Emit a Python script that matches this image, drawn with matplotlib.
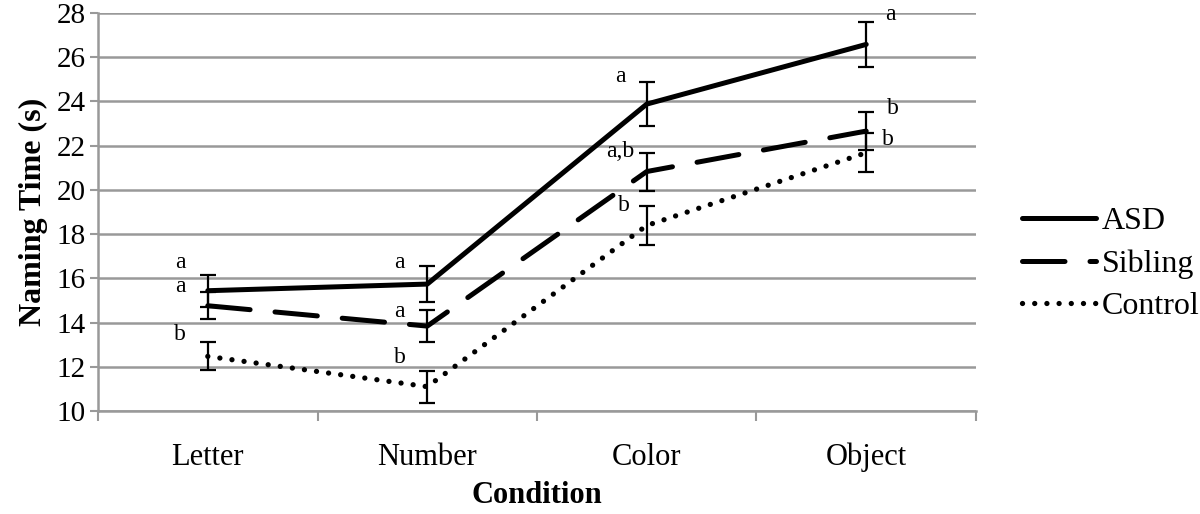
import numpy as np
import matplotlib
matplotlib.use('Agg')
import matplotlib.pyplot as plt

plt.rcParams['font.family'] = ['Liberation Serif', 'DejaVu Serif']

# data
conditions = ['Letter', 'Number', 'Color', 'Object']
asd = [15.44, 15.74, 23.88, 26.58]
asd_err = [0.73, 0.81, 1.00, 1.02]
sibling = [14.76, 13.84, 20.83, 22.66]
sibling_err = [0.62, 0.72, 0.86, 0.87]
control = [12.47, 11.10, 18.39, 21.68]
control_err = [0.63, 0.72, 0.87, 0.88]

# significance letters: (condition index, y, text, x shift)
sig_labels = [
    (0, 16.70, 'a', -0.125), (0, 15.61, 'a', -0.125), (0, 13.44, 'b', -0.125),
    (1, 16.70, 'a', -0.125), (1, 14.48, 'a', -0.125), (1, 12.44, 'b', -0.125),
    (2, 25.15, 'a', -0.12), (2, 21.75, 'a,b', -0.12), (2, 19.30, 'b', -0.105),
    (3, 27.94, 'a', 0.11), (3, 23.67, 'b', 0.12), (3, 22.26, 'b', 0.10),
]

x = np.arange(len(conditions))
grid_col = '#999999'

fig = plt.figure(figsize=(12, 5.14), dpi=100)
ax = fig.add_axes([0.0817, 0.2004, 0.7316, 0.7743])

ax.set_ylim(10, 28)
ax.set_xlim(-0.5, 3.5)
ax.set_yticks(np.arange(10, 29, 2))
ax.yaxis.grid(True, color=grid_col, linewidth=1.8)
ax.set_axisbelow(True)

ebar = dict(ecolor='black', elinewidth=1.6, capsize=6, capthick=1.6)
ax.errorbar(x, asd, yerr=asd_err, fmt='none', **ebar)
ax.errorbar(x, sibling, yerr=sibling_err, fmt='none', **ebar)
ax.errorbar(x, control, yerr=control_err, fmt='none', **ebar)

ax.plot(x, asd, color='black', linewidth=3.6, solid_capstyle='round', label='ASD')
ax.plot(x, sibling, color='black', linewidth=3.6, linestyle=(0, (8.5, 5)),
        dash_capstyle='round', label='Sibling')
ax.plot(x, control, color='black', linewidth=3.8, linestyle=(0, (0.01, 2.3)),
        dash_capstyle='round', label='Control')

for i, yv, txt, dx in sig_labels:
    ax.text(i + dx, yv, txt, fontsize=17, ha='center', va='center')

for s in ['top', 'right']:
    ax.spines[s].set_visible(False)
for s in ['left', 'bottom']:
    ax.spines[s].set_color(grid_col)
    ax.spines[s].set_linewidth(1.8)

ax.set_xticks(x)
ax.set_xticklabels(conditions)
ax.set_xticks(np.arange(-0.5, 4, 1), minor=True)
ax.tick_params(axis='x', which='major', length=0, pad=23, labelsize=22)
ax.tick_params(axis='x', which='minor', length=7, width=1.5, color=grid_col, direction='out')
ax.tick_params(axis='y', length=6, width=1.5, color=grid_col, labelsize=21, pad=3)

ax.set_xlabel('Condition', fontsize=22, fontweight='bold', labelpad=6)
ax.set_ylabel('Naming Time (s)', fontsize=23, fontweight='bold', labelpad=6)

fig.legend(loc='center left', bbox_to_anchor=(0.8517, 0.4864), frameon=False,
           fontsize=23, handlelength=2.3, handletextpad=0.2, labelspacing=0.4,
           borderpad=0, borderaxespad=0)

fig.savefig('out.png', dpi=100)
